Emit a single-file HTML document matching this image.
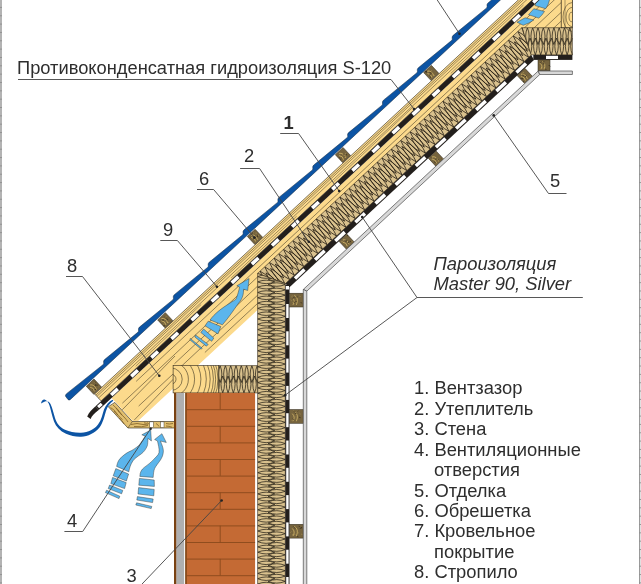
<!DOCTYPE html>
<html><head><meta charset="utf-8"><style>
html,body{margin:0;padding:0;background:#fff;}
body{width:641px;height:584px;overflow:hidden;position:relative;}
svg{position:absolute;left:0;top:0;}

</style></head><body>
<svg width="641" height="584" viewBox="0 0 641 584">
<defs><clipPath id="cr"><rect x="0" y="0" width="572.4" height="584"/></clipPath>
<clipPath id="crf"><polygon points="111.55,398.06 631.02,-85.05 654.81,-59.47 138.06,421.10 132.80,421.10 114.90,401.60"/></clipPath>
<clipPath id="ci1"><polygon points="257.60,273.43 521.83,27.70 531.29,54.90 285.30,283.67"/></clipPath>
<clipPath id="ci2"><polygon points="257.60,273.43 285.30,283.67 285.30,590.00 257.60,590.00"/></clipPath>
<clipPath id="ci3"><polygon points="521.83,27.70 572.40,27.70 572.40,54.90 531.29,54.90"/></clipPath>
<clipPath id="ctp"><rect x="173.1" y="365.6" width="45.7" height="27.3"/></clipPath>
<clipPath id="ci4"><polygon points="218.80,365.60 257.60,365.60 257.60,392.90 218.80,392.90"/></clipPath></defs>
<rect x="0" y="0" width="641" height="584" fill="#fff"/>
<g clip-path="url(#cr)"><polygon points="111.55,398.06 631.02,-85.05 654.81,-59.47 138.06,421.10 132.80,421.10 114.90,401.60" fill="#FCDA8C"/><g clip-path="url(#crf)"><line x1="136.17" y1="381.36" x2="663.40" y2="-108.97" stroke="#2a2418" stroke-width="0.5"/><line x1="122.35" y1="403.21" x2="666.90" y2="-105.21" stroke="#2a2418" stroke-width="0.5"/><line x1="174.44" y1="363.77" x2="671.38" y2="-100.39" stroke="#2a2418" stroke-width="0.5"/><line x1="138.65" y1="406.06" x2="676.37" y2="-95.02" stroke="#2a2418" stroke-width="0.5"/><line x1="204.88" y1="352.46" x2="680.86" y2="-90.20" stroke="#2a2418" stroke-width="0.5"/><line x1="134.40" y1="419.90" x2="173.30" y2="379.20" stroke="#2a2418" stroke-width="0.5"/><line x1="122.00" y1="410.00" x2="175.00" y2="356.00" stroke="#2a2418" stroke-width="0.5"/></g></g>
<path d="M249.1,278.5 L247.7,290.5 L243.6,289.2 C243.5,294 243,298 238.8,302.9 C236,306.5 230,316 222.4,324.8 L210.1,320 C214,314 222,308 229.2,303.6 C233,301 236,299.5 236.1,298.8 C238,294 239,290 239.5,287.1 L236.8,285.8 Z" fill="#5BB5EC" stroke="#2a2418" stroke-width="0.4"/>
<polygon points="208.20,321.20 220.80,326.50 218.00,333.90 205.00,325.80" fill="#5BB5EC" stroke="#2a2418" stroke-width="0.4"/>
<polygon points="203.60,329.00 213.80,338.10 211.70,341.30 200.80,332.50" fill="#5BB5EC" stroke="#2a2418" stroke-width="0.4"/>
<polygon points="195.50,334.90 208.20,344.40 206.40,346.20 194.80,337.00" fill="#5BB5EC" stroke="#2a2418" stroke-width="0.4"/>
<polygon points="190.30,338.40 202.20,348.30 201.20,349.30 189.90,339.80" fill="#5BB5EC" stroke="#2a2418" stroke-width="0.4"/>
<path d="M536.5,-1 L549.8,-1 Q548.5,5 545.7,8.7 L535.1,5.6 Z" fill="#5BB5EC" stroke="#2a2418" stroke-width="0.4"/>
<path d="M533.8,8.7 L544.5,11.5 Q542,15.5 538.8,18.1 L528.5,14.7 Z" fill="#5BB5EC" stroke="#2a2418" stroke-width="0.4"/>
<path d="M517,22.2 L525.1,17.8 L533.8,20 Q529,23.5 523.2,25.3 Z" fill="#5BB5EC" stroke="#2a2418" stroke-width="0.4"/>
<polygon points="257.60,273.43 521.83,27.70 531.29,54.90 285.30,283.67" fill="#D9C18D"/>
<g clip-path="url(#ci1)"><g transform="matrix(0.732271658149322,-0.6810126420788696,0.6810126420788696,0.732271658149322,250.28,280.24)"><path d="M-18.70,0.00 Q-22.60,10.54 -18.70,21.09 Q-14.80,10.54 -18.70,0.00 M-15.50,5.27 Q-19.40,15.82 -15.50,26.36 Q-11.60,15.82 -15.50,5.27 M-12.30,0.00 Q-16.20,10.54 -12.30,21.09 Q-8.40,10.54 -12.30,0.00 M-9.10,5.27 Q-13.00,15.82 -9.10,26.36 Q-5.20,15.82 -9.10,5.27 M-5.90,0.00 Q-9.80,10.54 -5.90,21.09 Q-2.00,10.54 -5.90,0.00 M-2.70,5.27 Q-6.60,15.82 -2.70,26.36 Q1.20,15.82 -2.70,5.27 M0.50,0.00 Q-3.40,10.54 0.50,21.09 Q4.40,10.54 0.50,0.00 M3.70,5.27 Q-0.20,15.82 3.70,26.36 Q7.60,15.82 3.70,5.27 M6.90,0.00 Q3.00,10.54 6.90,21.09 Q10.80,10.54 6.90,0.00 M10.10,5.27 Q6.20,15.82 10.10,26.36 Q14.00,15.82 10.10,5.27 M13.30,0.00 Q9.40,10.54 13.30,21.09 Q17.20,10.54 13.30,0.00 M16.50,5.27 Q12.60,15.82 16.50,26.36 Q20.40,15.82 16.50,5.27 M19.70,0.00 Q15.80,10.54 19.70,21.09 Q23.60,10.54 19.70,0.00 M22.90,5.27 Q19.00,15.82 22.90,26.36 Q26.80,15.82 22.90,5.27 M26.10,0.00 Q22.20,10.54 26.10,21.09 Q30.00,10.54 26.10,0.00 M29.30,5.27 Q25.40,15.82 29.30,26.36 Q33.20,15.82 29.30,5.27 M32.50,0.00 Q28.60,10.54 32.50,21.09 Q36.40,10.54 32.50,0.00 M35.70,5.27 Q31.80,15.82 35.70,26.36 Q39.60,15.82 35.70,5.27 M38.90,0.00 Q35.00,10.54 38.90,21.09 Q42.80,10.54 38.90,0.00 M42.10,5.27 Q38.20,15.82 42.10,26.36 Q46.00,15.82 42.10,5.27 M45.30,0.00 Q41.40,10.54 45.30,21.09 Q49.20,10.54 45.30,0.00 M48.50,5.27 Q44.60,15.82 48.50,26.36 Q52.40,15.82 48.50,5.27 M51.70,0.00 Q47.80,10.54 51.70,21.09 Q55.60,10.54 51.70,0.00 M54.90,5.27 Q51.00,15.82 54.90,26.36 Q58.80,15.82 54.90,5.27 M58.10,0.00 Q54.20,10.54 58.10,21.09 Q62.00,10.54 58.10,0.00 M61.30,5.27 Q57.40,15.82 61.30,26.36 Q65.20,15.82 61.30,5.27 M64.50,0.00 Q60.60,10.54 64.50,21.09 Q68.40,10.54 64.50,0.00 M67.70,5.27 Q63.80,15.82 67.70,26.36 Q71.60,15.82 67.70,5.27 M70.90,0.00 Q67.00,10.54 70.90,21.09 Q74.80,10.54 70.90,0.00 M74.10,5.27 Q70.20,15.82 74.10,26.36 Q78.00,15.82 74.10,5.27 M77.30,0.00 Q73.40,10.54 77.30,21.09 Q81.20,10.54 77.30,0.00 M80.50,5.27 Q76.60,15.82 80.50,26.36 Q84.40,15.82 80.50,5.27 M83.70,0.00 Q79.80,10.54 83.70,21.09 Q87.60,10.54 83.70,0.00 M86.90,5.27 Q83.00,15.82 86.90,26.36 Q90.80,15.82 86.90,5.27 M90.10,0.00 Q86.20,10.54 90.10,21.09 Q94.00,10.54 90.10,0.00 M93.30,5.27 Q89.40,15.82 93.30,26.36 Q97.20,15.82 93.30,5.27 M96.50,0.00 Q92.60,10.54 96.50,21.09 Q100.40,10.54 96.50,0.00 M99.70,5.27 Q95.80,15.82 99.70,26.36 Q103.60,15.82 99.70,5.27 M102.90,0.00 Q99.00,10.54 102.90,21.09 Q106.80,10.54 102.90,0.00 M106.10,5.27 Q102.20,15.82 106.10,26.36 Q110.00,15.82 106.10,5.27 M109.30,0.00 Q105.40,10.54 109.30,21.09 Q113.20,10.54 109.30,0.00 M112.50,5.27 Q108.60,15.82 112.50,26.36 Q116.40,15.82 112.50,5.27 M115.70,0.00 Q111.80,10.54 115.70,21.09 Q119.60,10.54 115.70,0.00 M118.90,5.27 Q115.00,15.82 118.90,26.36 Q122.80,15.82 118.90,5.27 M122.10,0.00 Q118.20,10.54 122.10,21.09 Q126.00,10.54 122.10,0.00 M125.30,5.27 Q121.40,15.82 125.30,26.36 Q129.20,15.82 125.30,5.27 M128.50,0.00 Q124.60,10.54 128.50,21.09 Q132.40,10.54 128.50,0.00 M131.70,5.27 Q127.80,15.82 131.70,26.36 Q135.60,15.82 131.70,5.27 M134.90,0.00 Q131.00,10.54 134.90,21.09 Q138.80,10.54 134.90,0.00 M138.10,5.27 Q134.20,15.82 138.10,26.36 Q142.00,15.82 138.10,5.27 M141.30,0.00 Q137.40,10.54 141.30,21.09 Q145.20,10.54 141.30,0.00 M144.50,5.27 Q140.60,15.82 144.50,26.36 Q148.40,15.82 144.50,5.27 M147.70,0.00 Q143.80,10.54 147.70,21.09 Q151.60,10.54 147.70,0.00 M150.90,5.27 Q147.00,15.82 150.90,26.36 Q154.80,15.82 150.90,5.27 M154.10,0.00 Q150.20,10.54 154.10,21.09 Q158.00,10.54 154.10,0.00 M157.30,5.27 Q153.40,15.82 157.30,26.36 Q161.20,15.82 157.30,5.27 M160.50,0.00 Q156.60,10.54 160.50,21.09 Q164.40,10.54 160.50,0.00 M163.70,5.27 Q159.80,15.82 163.70,26.36 Q167.60,15.82 163.70,5.27 M166.90,0.00 Q163.00,10.54 166.90,21.09 Q170.80,10.54 166.90,0.00 M170.10,5.27 Q166.20,15.82 170.10,26.36 Q174.00,15.82 170.10,5.27 M173.30,0.00 Q169.40,10.54 173.30,21.09 Q177.20,10.54 173.30,0.00 M176.50,5.27 Q172.60,15.82 176.50,26.36 Q180.40,15.82 176.50,5.27 M179.70,0.00 Q175.80,10.54 179.70,21.09 Q183.60,10.54 179.70,0.00 M182.90,5.27 Q179.00,15.82 182.90,26.36 Q186.80,15.82 182.90,5.27 M186.10,0.00 Q182.20,10.54 186.10,21.09 Q190.00,10.54 186.10,0.00 M189.30,5.27 Q185.40,15.82 189.30,26.36 Q193.20,15.82 189.30,5.27 M192.50,0.00 Q188.60,10.54 192.50,21.09 Q196.40,10.54 192.50,0.00 M195.70,5.27 Q191.80,15.82 195.70,26.36 Q199.60,15.82 195.70,5.27 M198.90,0.00 Q195.00,10.54 198.90,21.09 Q202.80,10.54 198.90,0.00 M202.10,5.27 Q198.20,15.82 202.10,26.36 Q206.00,15.82 202.10,5.27 M205.30,0.00 Q201.40,10.54 205.30,21.09 Q209.20,10.54 205.30,0.00 M208.50,5.27 Q204.60,15.82 208.50,26.36 Q212.40,15.82 208.50,5.27 M211.70,0.00 Q207.80,10.54 211.70,21.09 Q215.60,10.54 211.70,0.00 M214.90,5.27 Q211.00,15.82 214.90,26.36 Q218.80,15.82 214.90,5.27 M218.10,0.00 Q214.20,10.54 218.10,21.09 Q222.00,10.54 218.10,0.00 M221.30,5.27 Q217.40,15.82 221.30,26.36 Q225.20,15.82 221.30,5.27 M224.50,0.00 Q220.60,10.54 224.50,21.09 Q228.40,10.54 224.50,0.00 M227.70,5.27 Q223.80,15.82 227.70,26.36 Q231.60,15.82 227.70,5.27 M230.90,0.00 Q227.00,10.54 230.90,21.09 Q234.80,10.54 230.90,0.00 M234.10,5.27 Q230.20,15.82 234.10,26.36 Q238.00,15.82 234.10,5.27 M237.30,0.00 Q233.40,10.54 237.30,21.09 Q241.20,10.54 237.30,0.00 M240.50,5.27 Q236.60,15.82 240.50,26.36 Q244.40,15.82 240.50,5.27 M243.70,0.00 Q239.80,10.54 243.70,21.09 Q247.60,10.54 243.70,0.00 M246.90,5.27 Q243.00,15.82 246.90,26.36 Q250.80,15.82 246.90,5.27 M250.10,0.00 Q246.20,10.54 250.10,21.09 Q254.00,10.54 250.10,0.00 M253.30,5.27 Q249.40,15.82 253.30,26.36 Q257.20,15.82 253.30,5.27 M256.50,0.00 Q252.60,10.54 256.50,21.09 Q260.40,10.54 256.50,0.00 M259.70,5.27 Q255.80,15.82 259.70,26.36 Q263.60,15.82 259.70,5.27 M262.90,0.00 Q259.00,10.54 262.90,21.09 Q266.80,10.54 262.90,0.00 M266.10,5.27 Q262.20,15.82 266.10,26.36 Q270.00,15.82 266.10,5.27 M269.30,0.00 Q265.40,10.54 269.30,21.09 Q273.20,10.54 269.30,0.00 M272.50,5.27 Q268.60,15.82 272.50,26.36 Q276.40,15.82 272.50,5.27 M275.70,0.00 Q271.80,10.54 275.70,21.09 Q279.60,10.54 275.70,0.00 M278.90,5.27 Q275.00,15.82 278.90,26.36 Q282.80,15.82 278.90,5.27 M282.10,0.00 Q278.20,10.54 282.10,21.09 Q286.00,10.54 282.10,0.00 M285.30,5.27 Q281.40,15.82 285.30,26.36 Q289.20,15.82 285.30,5.27 M288.50,0.00 Q284.60,10.54 288.50,21.09 Q292.40,10.54 288.50,0.00 M291.70,5.27 Q287.80,15.82 291.70,26.36 Q295.60,15.82 291.70,5.27 M294.90,0.00 Q291.00,10.54 294.90,21.09 Q298.80,10.54 294.90,0.00 M298.10,5.27 Q294.20,15.82 298.10,26.36 Q302.00,15.82 298.10,5.27 M301.30,0.00 Q297.40,10.54 301.30,21.09 Q305.20,10.54 301.30,0.00 M304.50,5.27 Q300.60,15.82 304.50,26.36 Q308.40,15.82 304.50,5.27 M307.70,0.00 Q303.80,10.54 307.70,21.09 Q311.60,10.54 307.70,0.00 M310.90,5.27 Q307.00,15.82 310.90,26.36 Q314.80,15.82 310.90,5.27 M314.10,0.00 Q310.20,10.54 314.10,21.09 Q318.00,10.54 314.10,0.00 M317.30,5.27 Q313.40,15.82 317.30,26.36 Q321.20,15.82 317.30,5.27 M320.50,0.00 Q316.60,10.54 320.50,21.09 Q324.40,10.54 320.50,0.00 M323.70,5.27 Q319.80,15.82 323.70,26.36 Q327.60,15.82 323.70,5.27 M326.90,0.00 Q323.00,10.54 326.90,21.09 Q330.80,10.54 326.90,0.00 M330.10,5.27 Q326.20,15.82 330.10,26.36 Q334.00,15.82 330.10,5.27 M333.30,0.00 Q329.40,10.54 333.30,21.09 Q337.20,10.54 333.30,0.00 M336.50,5.27 Q332.60,15.82 336.50,26.36 Q340.40,15.82 336.50,5.27 M339.70,0.00 Q335.80,10.54 339.70,21.09 Q343.60,10.54 339.70,0.00 M342.90,5.27 Q339.00,15.82 342.90,26.36 Q346.80,15.82 342.90,5.27 M346.10,0.00 Q342.20,10.54 346.10,21.09 Q350.00,10.54 346.10,0.00 M349.30,5.27 Q345.40,15.82 349.30,26.36 Q353.20,15.82 349.30,5.27 M352.50,0.00 Q348.60,10.54 352.50,21.09 Q356.40,10.54 352.50,0.00 M355.70,5.27 Q351.80,15.82 355.70,26.36 Q359.60,15.82 355.70,5.27 M358.90,0.00 Q355.00,10.54 358.90,21.09 Q362.80,10.54 358.90,0.00 M362.10,5.27 Q358.20,15.82 362.10,26.36 Q366.00,15.82 362.10,5.27 M365.30,0.00 Q361.40,10.54 365.30,21.09 Q369.20,10.54 365.30,0.00 M368.50,5.27 Q364.60,15.82 368.50,26.36 Q372.40,15.82 368.50,5.27 M371.70,0.00 Q367.80,10.54 371.70,21.09 Q375.60,10.54 371.70,0.00 M374.90,5.27 Q371.00,15.82 374.90,26.36 Q378.80,15.82 374.90,5.27 M378.10,0.00 Q374.20,10.54 378.10,21.09 Q382.00,10.54 378.10,0.00 M381.30,5.27 Q377.40,15.82 381.30,26.36 Q385.20,15.82 381.30,5.27 M384.50,0.00 Q380.60,10.54 384.50,21.09 Q388.40,10.54 384.50,0.00 M387.70,5.27 Q383.80,15.82 387.70,26.36 Q391.60,15.82 387.70,5.27 M390.90,0.00 Q387.00,10.54 390.90,21.09 Q394.80,10.54 390.90,0.00 M394.10,5.27 Q390.20,15.82 394.10,26.36 Q398.00,15.82 394.10,5.27 M397.30,0.00 Q393.40,10.54 397.30,21.09 Q401.20,10.54 397.30,0.00 M400.50,5.27 Q396.60,15.82 400.50,26.36 Q404.40,15.82 400.50,5.27 M403.70,0.00 Q399.80,10.54 403.70,21.09 Q407.60,10.54 403.70,0.00 M406.90,5.27 Q403.00,15.82 406.90,26.36 Q410.80,15.82 406.90,5.27 M410.10,0.00 Q406.20,10.54 410.10,21.09 Q414.00,10.54 410.10,0.00 M413.30,5.27 Q409.40,15.82 413.30,26.36 Q417.20,15.82 413.30,5.27" fill="none" stroke="#241d13" stroke-width="0.75"/></g></g>
<polygon points="257.60,273.43 521.83,27.70 531.29,54.90 285.30,283.67" fill="none" stroke="#2f2719" stroke-width="0.6"/>
<polygon points="257.60,273.43 285.30,283.67 285.30,590.00 257.60,590.00" fill="#D9C18D"/>
<g clip-path="url(#ci2)"><g transform="matrix(0,1,1,0,257.6,0)"><path d="M-14.90,0.00 Q-18.40,8.59 -14.90,17.17 Q-11.40,8.59 -14.90,0.00 M-12.25,10.53 Q-15.75,19.11 -12.25,27.70 Q-8.75,19.11 -12.25,10.53 M-9.60,0.00 Q-13.10,8.59 -9.60,17.17 Q-6.10,8.59 -9.60,0.00 M-6.95,10.53 Q-10.45,19.11 -6.95,27.70 Q-3.45,19.11 -6.95,10.53 M-4.30,0.00 Q-7.80,8.59 -4.30,17.17 Q-0.80,8.59 -4.30,0.00 M-1.65,10.53 Q-5.15,19.11 -1.65,27.70 Q1.85,19.11 -1.65,10.53 M1.00,0.00 Q-2.50,8.59 1.00,17.17 Q4.50,8.59 1.00,0.00 M3.65,10.53 Q0.15,19.11 3.65,27.70 Q7.15,19.11 3.65,10.53 M6.30,0.00 Q2.80,8.59 6.30,17.17 Q9.80,8.59 6.30,0.00 M8.95,10.53 Q5.45,19.11 8.95,27.70 Q12.45,19.11 8.95,10.53 M11.60,0.00 Q8.10,8.59 11.60,17.17 Q15.10,8.59 11.60,0.00 M14.25,10.53 Q10.75,19.11 14.25,27.70 Q17.75,19.11 14.25,10.53 M16.90,0.00 Q13.40,8.59 16.90,17.17 Q20.40,8.59 16.90,0.00 M19.55,10.53 Q16.05,19.11 19.55,27.70 Q23.05,19.11 19.55,10.53 M22.20,0.00 Q18.70,8.59 22.20,17.17 Q25.70,8.59 22.20,0.00 M24.85,10.53 Q21.35,19.11 24.85,27.70 Q28.35,19.11 24.85,10.53 M27.50,0.00 Q24.00,8.59 27.50,17.17 Q31.00,8.59 27.50,0.00 M30.15,10.53 Q26.65,19.11 30.15,27.70 Q33.65,19.11 30.15,10.53 M32.80,0.00 Q29.30,8.59 32.80,17.17 Q36.30,8.59 32.80,0.00 M35.45,10.53 Q31.95,19.11 35.45,27.70 Q38.95,19.11 35.45,10.53 M38.10,0.00 Q34.60,8.59 38.10,17.17 Q41.60,8.59 38.10,0.00 M40.75,10.53 Q37.25,19.11 40.75,27.70 Q44.25,19.11 40.75,10.53 M43.40,0.00 Q39.90,8.59 43.40,17.17 Q46.90,8.59 43.40,0.00 M46.05,10.53 Q42.55,19.11 46.05,27.70 Q49.55,19.11 46.05,10.53 M48.70,0.00 Q45.20,8.59 48.70,17.17 Q52.20,8.59 48.70,0.00 M51.35,10.53 Q47.85,19.11 51.35,27.70 Q54.85,19.11 51.35,10.53 M54.00,0.00 Q50.50,8.59 54.00,17.17 Q57.50,8.59 54.00,0.00 M56.65,10.53 Q53.15,19.11 56.65,27.70 Q60.15,19.11 56.65,10.53 M59.30,0.00 Q55.80,8.59 59.30,17.17 Q62.80,8.59 59.30,0.00 M61.95,10.53 Q58.45,19.11 61.95,27.70 Q65.45,19.11 61.95,10.53 M64.60,0.00 Q61.10,8.59 64.60,17.17 Q68.10,8.59 64.60,0.00 M67.25,10.53 Q63.75,19.11 67.25,27.70 Q70.75,19.11 67.25,10.53 M69.90,0.00 Q66.40,8.59 69.90,17.17 Q73.40,8.59 69.90,0.00 M72.55,10.53 Q69.05,19.11 72.55,27.70 Q76.05,19.11 72.55,10.53 M75.20,0.00 Q71.70,8.59 75.20,17.17 Q78.70,8.59 75.20,0.00 M77.85,10.53 Q74.35,19.11 77.85,27.70 Q81.35,19.11 77.85,10.53 M80.50,0.00 Q77.00,8.59 80.50,17.17 Q84.00,8.59 80.50,0.00 M83.15,10.53 Q79.65,19.11 83.15,27.70 Q86.65,19.11 83.15,10.53 M85.80,0.00 Q82.30,8.59 85.80,17.17 Q89.30,8.59 85.80,0.00 M88.45,10.53 Q84.95,19.11 88.45,27.70 Q91.95,19.11 88.45,10.53 M91.10,0.00 Q87.60,8.59 91.10,17.17 Q94.60,8.59 91.10,0.00 M93.75,10.53 Q90.25,19.11 93.75,27.70 Q97.25,19.11 93.75,10.53 M96.40,0.00 Q92.90,8.59 96.40,17.17 Q99.90,8.59 96.40,0.00 M99.05,10.53 Q95.55,19.11 99.05,27.70 Q102.55,19.11 99.05,10.53 M101.70,0.00 Q98.20,8.59 101.70,17.17 Q105.20,8.59 101.70,0.00 M104.35,10.53 Q100.85,19.11 104.35,27.70 Q107.85,19.11 104.35,10.53 M107.00,0.00 Q103.50,8.59 107.00,17.17 Q110.50,8.59 107.00,0.00 M109.65,10.53 Q106.15,19.11 109.65,27.70 Q113.15,19.11 109.65,10.53 M112.30,0.00 Q108.80,8.59 112.30,17.17 Q115.80,8.59 112.30,0.00 M114.95,10.53 Q111.45,19.11 114.95,27.70 Q118.45,19.11 114.95,10.53 M117.60,0.00 Q114.10,8.59 117.60,17.17 Q121.10,8.59 117.60,0.00 M120.25,10.53 Q116.75,19.11 120.25,27.70 Q123.75,19.11 120.25,10.53 M122.90,0.00 Q119.40,8.59 122.90,17.17 Q126.40,8.59 122.90,0.00 M125.55,10.53 Q122.05,19.11 125.55,27.70 Q129.05,19.11 125.55,10.53 M128.20,0.00 Q124.70,8.59 128.20,17.17 Q131.70,8.59 128.20,0.00 M130.85,10.53 Q127.35,19.11 130.85,27.70 Q134.35,19.11 130.85,10.53 M133.50,0.00 Q130.00,8.59 133.50,17.17 Q137.00,8.59 133.50,0.00 M136.15,10.53 Q132.65,19.11 136.15,27.70 Q139.65,19.11 136.15,10.53 M138.80,0.00 Q135.30,8.59 138.80,17.17 Q142.30,8.59 138.80,0.00 M141.45,10.53 Q137.95,19.11 141.45,27.70 Q144.95,19.11 141.45,10.53 M144.10,0.00 Q140.60,8.59 144.10,17.17 Q147.60,8.59 144.10,0.00 M146.75,10.53 Q143.25,19.11 146.75,27.70 Q150.25,19.11 146.75,10.53 M149.40,0.00 Q145.90,8.59 149.40,17.17 Q152.90,8.59 149.40,0.00 M152.05,10.53 Q148.55,19.11 152.05,27.70 Q155.55,19.11 152.05,10.53 M154.70,0.00 Q151.20,8.59 154.70,17.17 Q158.20,8.59 154.70,0.00 M157.35,10.53 Q153.85,19.11 157.35,27.70 Q160.85,19.11 157.35,10.53 M160.00,0.00 Q156.50,8.59 160.00,17.17 Q163.50,8.59 160.00,0.00 M162.65,10.53 Q159.15,19.11 162.65,27.70 Q166.15,19.11 162.65,10.53 M165.30,0.00 Q161.80,8.59 165.30,17.17 Q168.80,8.59 165.30,0.00 M167.95,10.53 Q164.45,19.11 167.95,27.70 Q171.45,19.11 167.95,10.53 M170.60,0.00 Q167.10,8.59 170.60,17.17 Q174.10,8.59 170.60,0.00 M173.25,10.53 Q169.75,19.11 173.25,27.70 Q176.75,19.11 173.25,10.53 M175.90,0.00 Q172.40,8.59 175.90,17.17 Q179.40,8.59 175.90,0.00 M178.55,10.53 Q175.05,19.11 178.55,27.70 Q182.05,19.11 178.55,10.53 M181.20,0.00 Q177.70,8.59 181.20,17.17 Q184.70,8.59 181.20,0.00 M183.85,10.53 Q180.35,19.11 183.85,27.70 Q187.35,19.11 183.85,10.53 M186.50,0.00 Q183.00,8.59 186.50,17.17 Q190.00,8.59 186.50,0.00 M189.15,10.53 Q185.65,19.11 189.15,27.70 Q192.65,19.11 189.15,10.53 M191.80,0.00 Q188.30,8.59 191.80,17.17 Q195.30,8.59 191.80,0.00 M194.45,10.53 Q190.95,19.11 194.45,27.70 Q197.95,19.11 194.45,10.53 M197.10,0.00 Q193.60,8.59 197.10,17.17 Q200.60,8.59 197.10,0.00 M199.75,10.53 Q196.25,19.11 199.75,27.70 Q203.25,19.11 199.75,10.53 M202.40,0.00 Q198.90,8.59 202.40,17.17 Q205.90,8.59 202.40,0.00 M205.05,10.53 Q201.55,19.11 205.05,27.70 Q208.55,19.11 205.05,10.53 M207.70,0.00 Q204.20,8.59 207.70,17.17 Q211.20,8.59 207.70,0.00 M210.35,10.53 Q206.85,19.11 210.35,27.70 Q213.85,19.11 210.35,10.53 M213.00,0.00 Q209.50,8.59 213.00,17.17 Q216.50,8.59 213.00,0.00 M215.65,10.53 Q212.15,19.11 215.65,27.70 Q219.15,19.11 215.65,10.53 M218.30,0.00 Q214.80,8.59 218.30,17.17 Q221.80,8.59 218.30,0.00 M220.95,10.53 Q217.45,19.11 220.95,27.70 Q224.45,19.11 220.95,10.53 M223.60,0.00 Q220.10,8.59 223.60,17.17 Q227.10,8.59 223.60,0.00 M226.25,10.53 Q222.75,19.11 226.25,27.70 Q229.75,19.11 226.25,10.53 M228.90,0.00 Q225.40,8.59 228.90,17.17 Q232.40,8.59 228.90,0.00 M231.55,10.53 Q228.05,19.11 231.55,27.70 Q235.05,19.11 231.55,10.53 M234.20,0.00 Q230.70,8.59 234.20,17.17 Q237.70,8.59 234.20,0.00 M236.85,10.53 Q233.35,19.11 236.85,27.70 Q240.35,19.11 236.85,10.53 M239.50,0.00 Q236.00,8.59 239.50,17.17 Q243.00,8.59 239.50,0.00 M242.15,10.53 Q238.65,19.11 242.15,27.70 Q245.65,19.11 242.15,10.53 M244.80,0.00 Q241.30,8.59 244.80,17.17 Q248.30,8.59 244.80,0.00 M247.45,10.53 Q243.95,19.11 247.45,27.70 Q250.95,19.11 247.45,10.53 M250.10,0.00 Q246.60,8.59 250.10,17.17 Q253.60,8.59 250.10,0.00 M252.75,10.53 Q249.25,19.11 252.75,27.70 Q256.25,19.11 252.75,10.53 M255.40,0.00 Q251.90,8.59 255.40,17.17 Q258.90,8.59 255.40,0.00 M258.05,10.53 Q254.55,19.11 258.05,27.70 Q261.55,19.11 258.05,10.53 M260.70,0.00 Q257.20,8.59 260.70,17.17 Q264.20,8.59 260.70,0.00 M263.35,10.53 Q259.85,19.11 263.35,27.70 Q266.85,19.11 263.35,10.53 M266.00,0.00 Q262.50,8.59 266.00,17.17 Q269.50,8.59 266.00,0.00 M268.65,10.53 Q265.15,19.11 268.65,27.70 Q272.15,19.11 268.65,10.53 M271.30,0.00 Q267.80,8.59 271.30,17.17 Q274.80,8.59 271.30,0.00 M273.95,10.53 Q270.45,19.11 273.95,27.70 Q277.45,19.11 273.95,10.53 M276.60,0.00 Q273.10,8.59 276.60,17.17 Q280.10,8.59 276.60,0.00 M279.25,10.53 Q275.75,19.11 279.25,27.70 Q282.75,19.11 279.25,10.53 M281.90,0.00 Q278.40,8.59 281.90,17.17 Q285.40,8.59 281.90,0.00 M284.55,10.53 Q281.05,19.11 284.55,27.70 Q288.05,19.11 284.55,10.53 M287.20,0.00 Q283.70,8.59 287.20,17.17 Q290.70,8.59 287.20,0.00 M289.85,10.53 Q286.35,19.11 289.85,27.70 Q293.35,19.11 289.85,10.53 M292.50,0.00 Q289.00,8.59 292.50,17.17 Q296.00,8.59 292.50,0.00 M295.15,10.53 Q291.65,19.11 295.15,27.70 Q298.65,19.11 295.15,10.53 M297.80,0.00 Q294.30,8.59 297.80,17.17 Q301.30,8.59 297.80,0.00 M300.45,10.53 Q296.95,19.11 300.45,27.70 Q303.95,19.11 300.45,10.53 M303.10,0.00 Q299.60,8.59 303.10,17.17 Q306.60,8.59 303.10,0.00 M305.75,10.53 Q302.25,19.11 305.75,27.70 Q309.25,19.11 305.75,10.53 M308.40,0.00 Q304.90,8.59 308.40,17.17 Q311.90,8.59 308.40,0.00 M311.05,10.53 Q307.55,19.11 311.05,27.70 Q314.55,19.11 311.05,10.53 M313.70,0.00 Q310.20,8.59 313.70,17.17 Q317.20,8.59 313.70,0.00 M316.35,10.53 Q312.85,19.11 316.35,27.70 Q319.85,19.11 316.35,10.53 M319.00,0.00 Q315.50,8.59 319.00,17.17 Q322.50,8.59 319.00,0.00 M321.65,10.53 Q318.15,19.11 321.65,27.70 Q325.15,19.11 321.65,10.53 M324.30,0.00 Q320.80,8.59 324.30,17.17 Q327.80,8.59 324.30,0.00 M326.95,10.53 Q323.45,19.11 326.95,27.70 Q330.45,19.11 326.95,10.53 M329.60,0.00 Q326.10,8.59 329.60,17.17 Q333.10,8.59 329.60,0.00 M332.25,10.53 Q328.75,19.11 332.25,27.70 Q335.75,19.11 332.25,10.53 M334.90,0.00 Q331.40,8.59 334.90,17.17 Q338.40,8.59 334.90,0.00 M337.55,10.53 Q334.05,19.11 337.55,27.70 Q341.05,19.11 337.55,10.53 M340.20,0.00 Q336.70,8.59 340.20,17.17 Q343.70,8.59 340.20,0.00 M342.85,10.53 Q339.35,19.11 342.85,27.70 Q346.35,19.11 342.85,10.53 M345.50,0.00 Q342.00,8.59 345.50,17.17 Q349.00,8.59 345.50,0.00 M348.15,10.53 Q344.65,19.11 348.15,27.70 Q351.65,19.11 348.15,10.53 M350.80,0.00 Q347.30,8.59 350.80,17.17 Q354.30,8.59 350.80,0.00 M353.45,10.53 Q349.95,19.11 353.45,27.70 Q356.95,19.11 353.45,10.53 M356.10,0.00 Q352.60,8.59 356.10,17.17 Q359.60,8.59 356.10,0.00 M358.75,10.53 Q355.25,19.11 358.75,27.70 Q362.25,19.11 358.75,10.53 M361.40,0.00 Q357.90,8.59 361.40,17.17 Q364.90,8.59 361.40,0.00 M364.05,10.53 Q360.55,19.11 364.05,27.70 Q367.55,19.11 364.05,10.53 M366.70,0.00 Q363.20,8.59 366.70,17.17 Q370.20,8.59 366.70,0.00 M369.35,10.53 Q365.85,19.11 369.35,27.70 Q372.85,19.11 369.35,10.53 M372.00,0.00 Q368.50,8.59 372.00,17.17 Q375.50,8.59 372.00,0.00 M374.65,10.53 Q371.15,19.11 374.65,27.70 Q378.15,19.11 374.65,10.53 M377.30,0.00 Q373.80,8.59 377.30,17.17 Q380.80,8.59 377.30,0.00 M379.95,10.53 Q376.45,19.11 379.95,27.70 Q383.45,19.11 379.95,10.53 M382.60,0.00 Q379.10,8.59 382.60,17.17 Q386.10,8.59 382.60,0.00 M385.25,10.53 Q381.75,19.11 385.25,27.70 Q388.75,19.11 385.25,10.53 M387.90,0.00 Q384.40,8.59 387.90,17.17 Q391.40,8.59 387.90,0.00 M390.55,10.53 Q387.05,19.11 390.55,27.70 Q394.05,19.11 390.55,10.53 M393.20,0.00 Q389.70,8.59 393.20,17.17 Q396.70,8.59 393.20,0.00 M395.85,10.53 Q392.35,19.11 395.85,27.70 Q399.35,19.11 395.85,10.53 M398.50,0.00 Q395.00,8.59 398.50,17.17 Q402.00,8.59 398.50,0.00 M401.15,10.53 Q397.65,19.11 401.15,27.70 Q404.65,19.11 401.15,10.53 M403.80,0.00 Q400.30,8.59 403.80,17.17 Q407.30,8.59 403.80,0.00 M406.45,10.53 Q402.95,19.11 406.45,27.70 Q409.95,19.11 406.45,10.53 M409.10,0.00 Q405.60,8.59 409.10,17.17 Q412.60,8.59 409.10,0.00 M411.75,10.53 Q408.25,19.11 411.75,27.70 Q415.25,19.11 411.75,10.53 M414.40,0.00 Q410.90,8.59 414.40,17.17 Q417.90,8.59 414.40,0.00 M417.05,10.53 Q413.55,19.11 417.05,27.70 Q420.55,19.11 417.05,10.53 M419.70,0.00 Q416.20,8.59 419.70,17.17 Q423.20,8.59 419.70,0.00 M422.35,10.53 Q418.85,19.11 422.35,27.70 Q425.85,19.11 422.35,10.53 M425.00,0.00 Q421.50,8.59 425.00,17.17 Q428.50,8.59 425.00,0.00 M427.65,10.53 Q424.15,19.11 427.65,27.70 Q431.15,19.11 427.65,10.53 M430.30,0.00 Q426.80,8.59 430.30,17.17 Q433.80,8.59 430.30,0.00 M432.95,10.53 Q429.45,19.11 432.95,27.70 Q436.45,19.11 432.95,10.53 M435.60,0.00 Q432.10,8.59 435.60,17.17 Q439.10,8.59 435.60,0.00 M438.25,10.53 Q434.75,19.11 438.25,27.70 Q441.75,19.11 438.25,10.53 M440.90,0.00 Q437.40,8.59 440.90,17.17 Q444.40,8.59 440.90,0.00 M443.55,10.53 Q440.05,19.11 443.55,27.70 Q447.05,19.11 443.55,10.53 M446.20,0.00 Q442.70,8.59 446.20,17.17 Q449.70,8.59 446.20,0.00 M448.85,10.53 Q445.35,19.11 448.85,27.70 Q452.35,19.11 448.85,10.53 M451.50,0.00 Q448.00,8.59 451.50,17.17 Q455.00,8.59 451.50,0.00 M454.15,10.53 Q450.65,19.11 454.15,27.70 Q457.65,19.11 454.15,10.53 M456.80,0.00 Q453.30,8.59 456.80,17.17 Q460.30,8.59 456.80,0.00 M459.45,10.53 Q455.95,19.11 459.45,27.70 Q462.95,19.11 459.45,10.53 M462.10,0.00 Q458.60,8.59 462.10,17.17 Q465.60,8.59 462.10,0.00 M464.75,10.53 Q461.25,19.11 464.75,27.70 Q468.25,19.11 464.75,10.53 M467.40,0.00 Q463.90,8.59 467.40,17.17 Q470.90,8.59 467.40,0.00 M470.05,10.53 Q466.55,19.11 470.05,27.70 Q473.55,19.11 470.05,10.53 M472.70,0.00 Q469.20,8.59 472.70,17.17 Q476.20,8.59 472.70,0.00 M475.35,10.53 Q471.85,19.11 475.35,27.70 Q478.85,19.11 475.35,10.53 M478.00,0.00 Q474.50,8.59 478.00,17.17 Q481.50,8.59 478.00,0.00 M480.65,10.53 Q477.15,19.11 480.65,27.70 Q484.15,19.11 480.65,10.53 M483.30,0.00 Q479.80,8.59 483.30,17.17 Q486.80,8.59 483.30,0.00 M485.95,10.53 Q482.45,19.11 485.95,27.70 Q489.45,19.11 485.95,10.53 M488.60,0.00 Q485.10,8.59 488.60,17.17 Q492.10,8.59 488.60,0.00 M491.25,10.53 Q487.75,19.11 491.25,27.70 Q494.75,19.11 491.25,10.53 M493.90,0.00 Q490.40,8.59 493.90,17.17 Q497.40,8.59 493.90,0.00 M496.55,10.53 Q493.05,19.11 496.55,27.70 Q500.05,19.11 496.55,10.53 M499.20,0.00 Q495.70,8.59 499.20,17.17 Q502.70,8.59 499.20,0.00 M501.85,10.53 Q498.35,19.11 501.85,27.70 Q505.35,19.11 501.85,10.53 M504.50,0.00 Q501.00,8.59 504.50,17.17 Q508.00,8.59 504.50,0.00 M507.15,10.53 Q503.65,19.11 507.15,27.70 Q510.65,19.11 507.15,10.53 M509.80,0.00 Q506.30,8.59 509.80,17.17 Q513.30,8.59 509.80,0.00 M512.45,10.53 Q508.95,19.11 512.45,27.70 Q515.95,19.11 512.45,10.53 M515.10,0.00 Q511.60,8.59 515.10,17.17 Q518.60,8.59 515.10,0.00 M517.75,10.53 Q514.25,19.11 517.75,27.70 Q521.25,19.11 517.75,10.53 M520.40,0.00 Q516.90,8.59 520.40,17.17 Q523.90,8.59 520.40,0.00 M523.05,10.53 Q519.55,19.11 523.05,27.70 Q526.55,19.11 523.05,10.53 M525.70,0.00 Q522.20,8.59 525.70,17.17 Q529.20,8.59 525.70,0.00 M528.35,10.53 Q524.85,19.11 528.35,27.70 Q531.85,19.11 528.35,10.53 M531.00,0.00 Q527.50,8.59 531.00,17.17 Q534.50,8.59 531.00,0.00 M533.65,10.53 Q530.15,19.11 533.65,27.70 Q537.15,19.11 533.65,10.53 M536.30,0.00 Q532.80,8.59 536.30,17.17 Q539.80,8.59 536.30,0.00 M538.95,10.53 Q535.45,19.11 538.95,27.70 Q542.45,19.11 538.95,10.53 M541.60,0.00 Q538.10,8.59 541.60,17.17 Q545.10,8.59 541.60,0.00 M544.25,10.53 Q540.75,19.11 544.25,27.70 Q547.75,19.11 544.25,10.53 M546.90,0.00 Q543.40,8.59 546.90,17.17 Q550.40,8.59 546.90,0.00 M549.55,10.53 Q546.05,19.11 549.55,27.70 Q553.05,19.11 549.55,10.53 M552.20,0.00 Q548.70,8.59 552.20,17.17 Q555.70,8.59 552.20,0.00 M554.85,10.53 Q551.35,19.11 554.85,27.70 Q558.35,19.11 554.85,10.53 M557.50,0.00 Q554.00,8.59 557.50,17.17 Q561.00,8.59 557.50,0.00 M560.15,10.53 Q556.65,19.11 560.15,27.70 Q563.65,19.11 560.15,10.53 M562.80,0.00 Q559.30,8.59 562.80,17.17 Q566.30,8.59 562.80,0.00 M565.45,10.53 Q561.95,19.11 565.45,27.70 Q568.95,19.11 565.45,10.53 M568.10,0.00 Q564.60,8.59 568.10,17.17 Q571.60,8.59 568.10,0.00 M570.75,10.53 Q567.25,19.11 570.75,27.70 Q574.25,19.11 570.75,10.53 M573.40,0.00 Q569.90,8.59 573.40,17.17 Q576.90,8.59 573.40,0.00 M576.05,10.53 Q572.55,19.11 576.05,27.70 Q579.55,19.11 576.05,10.53 M578.70,0.00 Q575.20,8.59 578.70,17.17 Q582.20,8.59 578.70,0.00 M581.35,10.53 Q577.85,19.11 581.35,27.70 Q584.85,19.11 581.35,10.53 M584.00,0.00 Q580.50,8.59 584.00,17.17 Q587.50,8.59 584.00,0.00 M586.65,10.53 Q583.15,19.11 586.65,27.70 Q590.15,19.11 586.65,10.53 M589.30,0.00 Q585.80,8.59 589.30,17.17 Q592.80,8.59 589.30,0.00 M591.95,10.53 Q588.45,19.11 591.95,27.70 Q595.45,19.11 591.95,10.53 M594.60,0.00 Q591.10,8.59 594.60,17.17 Q598.10,8.59 594.60,0.00 M597.25,10.53 Q593.75,19.11 597.25,27.70 Q600.75,19.11 597.25,10.53 M599.90,0.00 Q596.40,8.59 599.90,17.17 Q603.40,8.59 599.90,0.00 M602.55,10.53 Q599.05,19.11 602.55,27.70 Q606.05,19.11 602.55,10.53 M605.20,0.00 Q601.70,8.59 605.20,17.17 Q608.70,8.59 605.20,0.00 M607.85,10.53 Q604.35,19.11 607.85,27.70 Q611.35,19.11 607.85,10.53 M610.50,0.00 Q607.00,8.59 610.50,17.17 Q614.00,8.59 610.50,0.00 M613.15,10.53 Q609.65,19.11 613.15,27.70 Q616.65,19.11 613.15,10.53" fill="none" stroke="#1f1a12" stroke-width="0.72"/></g></g>
<polygon points="257.60,273.43 285.30,283.67 285.30,590.00 257.60,590.00" fill="none" stroke="#2f2719" stroke-width="0.6"/>
<polygon points="521.83,27.70 572.40,27.70 572.40,54.90 531.29,54.90" fill="#D9C18D"/>
<g clip-path="url(#ci3)"><g transform="translate(510,27.7)"><path d="M-14.40,0.00 Q-17.90,8.43 -14.40,16.86 Q-10.90,8.43 -14.40,0.00 M-11.75,10.34 Q-15.25,18.77 -11.75,27.20 Q-8.25,18.77 -11.75,10.34 M-9.10,0.00 Q-12.60,8.43 -9.10,16.86 Q-5.60,8.43 -9.10,0.00 M-6.45,10.34 Q-9.95,18.77 -6.45,27.20 Q-2.95,18.77 -6.45,10.34 M-3.80,0.00 Q-7.30,8.43 -3.80,16.86 Q-0.30,8.43 -3.80,0.00 M-1.15,10.34 Q-4.65,18.77 -1.15,27.20 Q2.35,18.77 -1.15,10.34 M1.50,0.00 Q-2.00,8.43 1.50,16.86 Q5.00,8.43 1.50,0.00 M4.15,10.34 Q0.65,18.77 4.15,27.20 Q7.65,18.77 4.15,10.34 M6.80,0.00 Q3.30,8.43 6.80,16.86 Q10.30,8.43 6.80,0.00 M9.45,10.34 Q5.95,18.77 9.45,27.20 Q12.95,18.77 9.45,10.34 M12.10,0.00 Q8.60,8.43 12.10,16.86 Q15.60,8.43 12.10,0.00 M14.75,10.34 Q11.25,18.77 14.75,27.20 Q18.25,18.77 14.75,10.34 M17.40,0.00 Q13.90,8.43 17.40,16.86 Q20.90,8.43 17.40,0.00 M20.05,10.34 Q16.55,18.77 20.05,27.20 Q23.55,18.77 20.05,10.34 M22.70,0.00 Q19.20,8.43 22.70,16.86 Q26.20,8.43 22.70,0.00 M25.35,10.34 Q21.85,18.77 25.35,27.20 Q28.85,18.77 25.35,10.34 M28.00,0.00 Q24.50,8.43 28.00,16.86 Q31.50,8.43 28.00,0.00 M30.65,10.34 Q27.15,18.77 30.65,27.20 Q34.15,18.77 30.65,10.34 M33.30,0.00 Q29.80,8.43 33.30,16.86 Q36.80,8.43 33.30,0.00 M35.95,10.34 Q32.45,18.77 35.95,27.20 Q39.45,18.77 35.95,10.34 M38.60,0.00 Q35.10,8.43 38.60,16.86 Q42.10,8.43 38.60,0.00 M41.25,10.34 Q37.75,18.77 41.25,27.20 Q44.75,18.77 41.25,10.34 M43.90,0.00 Q40.40,8.43 43.90,16.86 Q47.40,8.43 43.90,0.00 M46.55,10.34 Q43.05,18.77 46.55,27.20 Q50.05,18.77 46.55,10.34 M49.20,0.00 Q45.70,8.43 49.20,16.86 Q52.70,8.43 49.20,0.00 M51.85,10.34 Q48.35,18.77 51.85,27.20 Q55.35,18.77 51.85,10.34 M54.50,0.00 Q51.00,8.43 54.50,16.86 Q58.00,8.43 54.50,0.00 M57.15,10.34 Q53.65,18.77 57.15,27.20 Q60.65,18.77 57.15,10.34 M59.80,0.00 Q56.30,8.43 59.80,16.86 Q63.30,8.43 59.80,0.00 M62.45,10.34 Q58.95,18.77 62.45,27.20 Q65.95,18.77 62.45,10.34 M65.10,0.00 Q61.60,8.43 65.10,16.86 Q68.60,8.43 65.10,0.00 M67.75,10.34 Q64.25,18.77 67.75,27.20 Q71.25,18.77 67.75,10.34 M70.40,0.00 Q66.90,8.43 70.40,16.86 Q73.90,8.43 70.40,0.00 M73.05,10.34 Q69.55,18.77 73.05,27.20 Q76.55,18.77 73.05,10.34 M75.70,0.00 Q72.20,8.43 75.70,16.86 Q79.20,8.43 75.70,0.00 M78.35,10.34 Q74.85,18.77 78.35,27.20 Q81.85,18.77 78.35,10.34 M81.00,0.00 Q77.50,8.43 81.00,16.86 Q84.50,8.43 81.00,0.00 M83.65,10.34 Q80.15,18.77 83.65,27.20 Q87.15,18.77 83.65,10.34" fill="none" stroke="#1f1a12" stroke-width="0.72"/></g></g>
<polygon points="521.83,27.70 572.40,27.70 572.40,54.90 531.29,54.90" fill="none" stroke="#2f2719" stroke-width="0.6"/>
<rect x="561.20" y="-1.00" width="11.20" height="28.70" fill="#FCDA8C" stroke="#2a2418" stroke-width="0.7"/>
<path d="M572,12.2 A3,4.800000000000001 0 0 0 572,21.8" fill="none" stroke="#2a2418" stroke-width="0.5"/>
<path d="M572,7.399999999999999 A6,9.600000000000001 0 0 0 572,26.6" fill="none" stroke="#2a2418" stroke-width="0.5"/>
<path d="M572,2.5999999999999996 A9,14.4 0 0 0 572,31.4" fill="none" stroke="#2a2418" stroke-width="0.5"/>
<line x1="565.00" y1="0.00" x2="565.00" y2="27.00" stroke="#2a2418" stroke-width="0.4"/>
<polygon points="285.30,283.67 531.29,54.90 533.98,59.90 289.50,287.26" fill="#231F1C"/>
<polygon points="293.79,277.14 303.31,268.29 305.69,270.84 296.17,279.70" fill="#fff"/>
<polygon points="313.93,258.41 323.45,249.56 325.83,252.12 316.31,260.97" fill="#fff"/>
<polygon points="334.07,239.68 343.59,230.83 345.96,233.39 336.44,242.24" fill="#fff"/>
<polygon points="354.20,220.96 363.72,212.10 366.10,214.66 356.58,223.51" fill="#fff"/>
<polygon points="374.34,202.23 383.86,193.37 386.24,195.93 376.72,204.79" fill="#fff"/>
<polygon points="394.48,183.50 404.00,174.65 406.38,177.20 396.86,186.06" fill="#fff"/>
<polygon points="414.62,164.77 424.14,155.92 426.51,158.48 416.99,167.33" fill="#fff"/>
<polygon points="434.75,146.04 444.27,137.19 446.65,139.75 437.13,148.60" fill="#fff"/>
<polygon points="454.89,127.32 464.41,118.46 466.79,121.02 457.27,129.87" fill="#fff"/>
<polygon points="475.03,108.59 484.55,99.74 486.93,102.29 477.41,111.15" fill="#fff"/>
<polygon points="495.17,89.86 504.69,81.01 507.06,83.56 497.54,92.42" fill="#fff"/>
<polygon points="515.30,71.13 524.82,62.28 527.20,64.84 517.68,73.69" fill="#fff"/>
<rect x="285.30" y="285.00" width="4.20" height="310.00" fill="#231F1C"/>
<rect x="285.80" y="286.00" width="3.20" height="3.50" fill="#fff"/>
<rect x="286.20" y="304.00" width="2.40" height="14.00" fill="#fff"/>
<rect x="286.20" y="331.30" width="2.40" height="14.00" fill="#fff"/>
<rect x="286.20" y="358.60" width="2.40" height="14.00" fill="#fff"/>
<rect x="286.20" y="385.90" width="2.40" height="14.00" fill="#fff"/>
<rect x="286.20" y="413.20" width="2.40" height="14.00" fill="#fff"/>
<rect x="286.20" y="440.50" width="2.40" height="14.00" fill="#fff"/>
<rect x="286.20" y="467.80" width="2.40" height="14.00" fill="#fff"/>
<rect x="286.20" y="495.10" width="2.40" height="14.00" fill="#fff"/>
<rect x="286.20" y="522.40" width="2.40" height="14.00" fill="#fff"/>
<rect x="286.20" y="549.70" width="2.40" height="14.00" fill="#fff"/>
<rect x="286.20" y="577.00" width="2.40" height="14.00" fill="#fff"/>
<rect x="533.30" y="54.90" width="39.10" height="5.00" fill="#231F1C"/>
<rect x="546.00" y="55.80" width="12.00" height="3.20" fill="#fff"/>
<g transform="matrix(0.73227,-0.68101,0.68101,0.73227,338.99,241.24)"><rect x="0" y="0" width="10.60" height="10.98" fill="#76643e" stroke="#2a2418" stroke-width="0.5"/><path d="M3.71,1.65 q3.71,2.20 1.59,7.69 M2.12,3.30 q2.65,2.75 0.53,6.04" fill="none" stroke="#d4b768" stroke-width="0.8"/><path d="M5.91,4.87l0.23,-0.88 M7.96,8.34l0.46,-1.02 M5.48,3.98l-0.75,1.36 M9.51,1.49l1.08,0.31 M4.30,3.59l0.52,-0.13 M6.88,6.91l-1.10,0.80" fill="none" stroke="#2b2316" stroke-width="0.7"/><path d="M9.39,9.62l0.27,-1.09 M1.09,2.28l1.06,-0.47 M4.16,8.99l-0.45,0.12 M4.76,1.67l0.20,0.83 M2.39,3.07l-0.21,-1.11" fill="none" stroke="#b39a5a" stroke-width="0.6"/></g>
<g transform="matrix(0.73227,-0.68101,0.68101,0.73227,428.32,158.17)"><rect x="0" y="0" width="10.60" height="10.98" fill="#76643e" stroke="#2a2418" stroke-width="0.5"/><path d="M3.71,1.65 q3.71,2.20 1.59,7.69 M2.12,3.30 q2.65,2.75 0.53,6.04" fill="none" stroke="#d4b768" stroke-width="0.8"/><path d="M4.90,6.02l1.27,-0.10 M5.37,6.26l-0.95,0.04 M6.40,8.07l-1.22,-0.59 M1.83,8.21l0.58,-1.37 M9.39,9.58l0.46,0.35 M2.40,1.23l0.09,-1.32" fill="none" stroke="#2b2316" stroke-width="0.7"/><path d="M2.67,3.22l-1.13,-0.09 M4.80,8.50l0.05,0.34 M5.30,6.92l-0.10,-0.53 M9.52,9.85l0.82,0.50 M3.73,3.12l-0.51,-1.03" fill="none" stroke="#b39a5a" stroke-width="0.6"/></g>
<g transform="matrix(0.73227,-0.68101,0.68101,0.73227,517.15,75.55)"><rect x="0" y="0" width="10.60" height="10.98" fill="#76643e" stroke="#2a2418" stroke-width="0.5"/><path d="M3.71,1.65 q3.71,2.20 1.59,7.69 M2.12,3.30 q2.65,2.75 0.53,6.04" fill="none" stroke="#d4b768" stroke-width="0.8"/><path d="M5.08,6.88l0.50,-1.07 M1.15,4.39l-0.68,0.93 M6.92,6.38l0.17,0.48 M2.29,4.97l-1.01,1.22 M1.56,8.29l-1.28,0.56 M3.92,4.65l1.03,-1.44" fill="none" stroke="#2b2316" stroke-width="0.7"/><path d="M1.58,9.14l0.02,-0.98 M9.43,9.42l-0.93,-0.18 M2.21,3.84l0.29,-0.81 M6.97,1.55l-0.79,0.76 M4.46,4.78l0.23,-0.06" fill="none" stroke="#b39a5a" stroke-width="0.6"/></g>
<g transform="translate(289.50,293.20)"><rect x="0" y="0" width="13.80" height="13.80" fill="#76643e" stroke="#2a2418" stroke-width="0.5"/><path d="M4.83,2.07 q4.83,2.76 2.07,9.66 M2.76,4.14 q3.45,3.45 0.69,7.59" fill="none" stroke="#d4b768" stroke-width="0.8"/><path d="M11.38,8.96l0.80,1.21 M4.25,8.40l1.21,1.12 M7.71,3.25l-0.27,1.48 M2.52,4.90l1.35,-0.15 M3.68,4.88l1.23,-0.49 M6.10,8.31l0.92,-0.02" fill="none" stroke="#2b2316" stroke-width="0.7"/><path d="M2.28,7.71l-1.12,-0.97 M3.48,9.04l-0.52,0.46 M3.18,2.68l-1.14,0.49 M10.86,3.81l-0.63,-1.17 M8.50,4.70l-0.87,0.35" fill="none" stroke="#b39a5a" stroke-width="0.6"/></g>
<g transform="translate(289.50,409.50)"><rect x="0" y="0" width="13.80" height="13.80" fill="#76643e" stroke="#2a2418" stroke-width="0.5"/><path d="M4.83,2.07 q4.83,2.76 2.07,9.66 M2.76,4.14 q3.45,3.45 0.69,7.59" fill="none" stroke="#d4b768" stroke-width="0.8"/><path d="M3.20,9.00l0.40,-0.06 M3.76,10.13l0.92,0.04 M6.96,3.99l-1.49,-0.39 M7.84,2.14l0.88,-0.80 M3.95,1.85l1.49,0.72 M11.04,8.18l-1.40,-0.51" fill="none" stroke="#2b2316" stroke-width="0.7"/><path d="M6.87,2.66l1.08,-0.32 M3.09,10.41l-0.90,1.03 M6.38,7.47l-0.38,-0.04 M3.44,1.79l0.88,-0.64 M9.99,3.68l1.13,0.95" fill="none" stroke="#b39a5a" stroke-width="0.6"/></g>
<g transform="translate(289.50,524.30)"><rect x="0" y="0" width="13.80" height="13.80" fill="#76643e" stroke="#2a2418" stroke-width="0.5"/><path d="M4.83,2.07 q4.83,2.76 2.07,9.66 M2.76,4.14 q3.45,3.45 0.69,7.59" fill="none" stroke="#d4b768" stroke-width="0.8"/><path d="M11.96,2.93l-1.43,1.50 M3.41,2.71l0.45,-0.46 M11.20,3.94l1.38,-0.54 M8.02,11.67l0.56,1.27 M9.20,1.91l1.14,0.27 M4.81,3.48l1.05,0.25" fill="none" stroke="#2b2316" stroke-width="0.7"/><path d="M11.74,9.92l1.11,0.16 M9.09,8.14l-0.58,1.10 M4.83,10.00l1.09,0.36 M2.95,10.49l0.40,-0.76 M1.92,7.25l-1.12,1.02" fill="none" stroke="#b39a5a" stroke-width="0.6"/></g>
<g transform="translate(538.00,59.90)"><rect x="0" y="0" width="12.00" height="10.90" fill="#76643e" stroke="#2a2418" stroke-width="0.5"/><path d="M4.20,1.64 q4.20,2.18 1.80,7.63 M2.40,3.27 q3.00,2.73 0.60,6.00" fill="none" stroke="#d4b768" stroke-width="0.8"/><path d="M6.38,3.61l-1.41,0.46 M3.22,3.33l-0.31,0.42 M10.69,5.11l1.48,1.48 M3.53,1.72l-1.02,1.03 M6.96,9.09l1.42,0.46 M6.34,1.68l-1.43,0.92" fill="none" stroke="#2b2316" stroke-width="0.7"/><path d="M7.65,7.74l0.16,0.42 M7.33,8.90l-0.93,-0.01 M4.17,8.32l0.90,-0.60 M1.97,3.21l-0.44,0.65 M5.13,7.63l-0.48,0.06" fill="none" stroke="#b39a5a" stroke-width="0.6"/></g>
<polygon points="303.30,289.43 538.17,71.00 539.78,74.50 306.80,291.18" fill="#D8D8D8" stroke="#4a4a4a" stroke-width="0.7"/>
<polygon points="303.30,289.43 306.80,291.18 306.80,590.00 303.30,590.00" fill="#D8D8D8" stroke="#4a4a4a" stroke-width="0.7"/>
<polygon points="538.17,71.00 572.40,71.00 572.40,74.50 539.78,74.50" fill="#D8D8D8" stroke="#4a4a4a" stroke-width="0.7"/>
<polygon points="94.64,393.98 621.15,-95.67 627.63,-88.70 101.13,400.95" fill="#FCDA8C" stroke="#2a2418" stroke-width="0.6"/><line x1="95.80" y1="395.23" x2="622.31" y2="-94.42" stroke="#2a2418" stroke-width="0.5"/><line x1="96.89" y1="396.40" x2="623.40" y2="-93.25" stroke="#2a2418" stroke-width="0.45"/><line x1="98.46" y1="398.08" x2="624.96" y2="-91.57" stroke="#2a2418" stroke-width="0.45"/><line x1="135.70" y1="366.18" x2="201.20" y2="304.45" stroke="#2a2418" stroke-width="0.4"/><line x1="231.17" y1="277.94" x2="296.67" y2="216.21" stroke="#2a2418" stroke-width="0.4"/><line x1="333.28" y1="182.16" x2="413.42" y2="106.81" stroke="#2a2418" stroke-width="0.4"/><line x1="450.71" y1="73.49" x2="523.53" y2="4.95" stroke="#2a2418" stroke-width="0.4"/>
<polygon points="95.27,406.40 627.63,-88.70 631.02,-85.05 98.66,410.05" fill="#231F1C"/>
<polygon points="109.95,393.70 116.54,387.57 118.98,390.19 112.39,396.32" fill="#fff"/>
<polygon points="130.05,375.01 136.64,368.88 139.08,371.50 132.49,377.63" fill="#fff"/>
<polygon points="150.15,356.31 156.74,350.18 159.18,352.80 152.59,358.93" fill="#fff"/>
<polygon points="170.25,337.62 176.85,331.49 179.28,334.11 172.69,340.24" fill="#fff"/>
<polygon points="190.36,318.93 196.95,312.80 199.38,315.42 192.79,321.55" fill="#fff"/>
<polygon points="210.46,300.23 217.05,294.10 219.48,296.72 212.89,302.85" fill="#fff"/>
<polygon points="230.56,281.54 237.15,275.41 239.59,278.03 233.00,284.16" fill="#fff"/>
<polygon points="250.66,262.84 257.25,256.71 259.69,259.34 253.10,265.46" fill="#fff"/>
<polygon points="270.76,244.15 277.35,238.02 279.79,240.64 273.20,246.77" fill="#fff"/>
<polygon points="290.86,225.46 297.45,219.33 299.89,221.95 293.30,228.08" fill="#fff"/>
<polygon points="310.96,206.76 317.55,200.63 319.99,203.25 313.40,209.38" fill="#fff"/>
<polygon points="331.06,188.07 337.65,181.94 340.09,184.56 333.50,190.69" fill="#fff"/>
<polygon points="351.16,169.37 357.75,163.25 360.19,165.87 353.60,172.00" fill="#fff"/>
<polygon points="371.26,150.68 377.85,144.55 380.29,147.17 373.70,153.30" fill="#fff"/>
<polygon points="391.36,131.99 397.95,125.86 400.39,128.48 393.80,134.61" fill="#fff"/>
<polygon points="411.47,113.29 418.06,107.16 420.49,109.79 413.90,115.91" fill="#fff"/>
<polygon points="431.57,94.60 438.16,88.47 440.59,91.09 434.00,97.22" fill="#fff"/>
<polygon points="451.67,75.91 458.26,69.78 460.69,72.40 454.10,78.53" fill="#fff"/>
<polygon points="471.77,57.21 478.36,51.08 480.80,53.70 474.21,59.83" fill="#fff"/>
<polygon points="491.87,38.52 498.46,32.39 500.90,35.01 494.31,41.14" fill="#fff"/>
<polygon points="511.97,19.82 518.56,13.70 521.00,16.32 514.41,22.45" fill="#fff"/>
<polygon points="532.07,1.13 538.66,-5.00 541.10,-2.38 534.51,3.75" fill="#fff"/>
<polygon points="552.17,-17.56 558.76,-23.69 561.20,-21.07 554.61,-14.94" fill="#fff"/>
<polygon points="572.27,-36.26 578.86,-42.39 581.30,-39.76 574.71,-33.64" fill="#fff"/>
<polygon points="592.37,-54.95 598.96,-61.08 601.40,-58.46 594.81,-52.33" fill="#fff"/>
<polygon points="612.47,-73.64 619.06,-79.77 621.50,-77.15 614.91,-71.02" fill="#fff"/>
<polygon points="97.05,406.11 100.71,402.71 102.74,404.89 99.08,408.29" fill="#fff"/>
<path d="M95.27,406.40 C92,409.5 89,412 87.2,416.4 L90.6,419 C91.8,416 94,413.5 98.66,410.05 Z" fill="#231F1C"/>
<g transform="matrix(0.73227,-0.68101,0.68101,0.73227,86.26,386.28)"><rect x="0" y="0" width="10.60" height="10.98" fill="#76643e" stroke="#2a2418" stroke-width="0.5"/><path d="M3.71,1.65 q3.71,2.20 1.59,7.69 M2.12,3.30 q2.65,2.75 0.53,6.04" fill="none" stroke="#d4b768" stroke-width="0.8"/><path d="M4.95,8.81l-1.40,-0.65 M9.22,6.94l-1.11,-0.45 M8.52,4.97l-1.41,1.19 M2.16,6.73l0.36,-0.12 M9.22,2.65l0.31,-1.16 M9.25,2.37l0.04,1.00" fill="none" stroke="#2b2316" stroke-width="0.7"/><path d="M8.55,1.96l0.91,0.82 M3.74,7.75l-0.66,-0.83 M2.44,3.81l0.78,-0.09 M9.45,8.95l-0.69,-0.16 M1.61,6.23l0.26,0.20" fill="none" stroke="#b39a5a" stroke-width="0.6"/></g>
<g transform="matrix(0.73227,-0.68101,0.68101,0.73227,157.65,319.88)"><rect x="0" y="0" width="10.60" height="10.98" fill="#76643e" stroke="#2a2418" stroke-width="0.5"/><path d="M3.71,1.65 q3.71,2.20 1.59,7.69 M2.12,3.30 q2.65,2.75 0.53,6.04" fill="none" stroke="#d4b768" stroke-width="0.8"/><path d="M4.29,3.13l-1.00,1.24 M5.96,7.16l0.16,-0.35 M7.26,6.16l0.84,0.48 M8.18,4.96l-1.03,-1.05 M7.19,2.57l0.46,0.36 M1.56,7.99l-1.40,1.10" fill="none" stroke="#2b2316" stroke-width="0.7"/><path d="M8.19,3.00l0.54,0.56 M2.12,6.99l-0.90,0.99 M6.90,9.71l-1.07,-0.44 M6.32,6.44l-0.76,0.93 M8.24,3.75l-0.85,0.40" fill="none" stroke="#b39a5a" stroke-width="0.6"/></g>
<g transform="matrix(0.73227,-0.68101,0.68101,0.73227,247.36,236.46)"><rect x="0" y="0" width="10.60" height="10.98" fill="#76643e" stroke="#2a2418" stroke-width="0.5"/><path d="M3.71,1.65 q3.71,2.20 1.59,7.69 M2.12,3.30 q2.65,2.75 0.53,6.04" fill="none" stroke="#d4b768" stroke-width="0.8"/><path d="M6.48,1.32l-0.67,-0.83 M7.31,7.04l1.18,-1.24 M4.64,1.36l-0.84,0.02 M1.29,2.85l0.45,0.13 M2.93,6.28l0.93,-1.48 M7.89,7.23l-0.48,-1.03" fill="none" stroke="#2b2316" stroke-width="0.7"/><path d="M9.18,4.06l-0.98,-0.97 M8.25,6.40l0.74,0.55 M5.61,9.65l-0.29,0.12 M8.09,6.53l0.87,0.19 M7.03,1.50l-0.65,-0.51" fill="none" stroke="#b39a5a" stroke-width="0.6"/></g>
<g transform="matrix(0.73227,-0.68101,0.68101,0.73227,335.30,154.67)"><rect x="0" y="0" width="10.60" height="10.98" fill="#76643e" stroke="#2a2418" stroke-width="0.5"/><path d="M3.71,1.65 q3.71,2.20 1.59,7.69 M2.12,3.30 q2.65,2.75 0.53,6.04" fill="none" stroke="#d4b768" stroke-width="0.8"/><path d="M1.39,7.22l-1.07,-0.11 M6.76,8.07l-0.14,-0.01 M1.22,4.90l-0.38,1.06 M5.70,7.74l-0.20,-0.97 M8.28,8.31l-0.37,-1.21 M5.41,5.46l0.82,0.29" fill="none" stroke="#2b2316" stroke-width="0.7"/><path d="M5.36,6.15l-0.30,-1.08 M1.58,9.38l0.81,-0.49 M8.60,5.69l-0.95,0.85 M6.02,9.30l0.43,-0.97 M6.34,8.01l0.96,-0.40" fill="none" stroke="#b39a5a" stroke-width="0.6"/></g>
<g transform="matrix(0.73227,-0.68101,0.68101,0.73227,423.61,72.54)"><rect x="0" y="0" width="10.60" height="10.98" fill="#76643e" stroke="#2a2418" stroke-width="0.5"/><path d="M3.71,1.65 q3.71,2.20 1.59,7.69 M2.12,3.30 q2.65,2.75 0.53,6.04" fill="none" stroke="#d4b768" stroke-width="0.8"/><path d="M4.52,5.86l1.09,-0.97 M2.97,1.35l-1.15,-1.47 M2.39,5.61l1.47,0.58 M4.27,4.66l0.57,-0.52 M1.68,8.49l0.35,-1.16 M1.65,1.93l1.38,-1.18" fill="none" stroke="#2b2316" stroke-width="0.7"/><path d="M6.36,9.62l-1.12,-0.27 M5.11,9.16l-0.75,-0.58 M3.16,1.53l0.42,0.76 M4.76,1.43l0.51,0.57 M6.60,3.99l0.79,0.31" fill="none" stroke="#b39a5a" stroke-width="0.6"/></g>
<path d="M70.40,399.48 Q69.01,400.63 67.99,399.54 L65.72,396.50 Q64.84,395.27 66.60,393.63 L103.25,364.47 C104.57,363.25 102.43,361.54 104.63,359.49 L138.11,332.06 C139.43,330.83 137.29,329.12 139.49,327.08 L172.97,299.64 C174.29,298.41 172.15,296.70 174.34,294.66 L207.82,267.22 C209.14,266.00 207.00,264.29 209.20,262.24 L242.68,234.81 C244.00,233.58 241.86,231.87 244.06,229.83 L277.54,202.39 C278.85,201.17 276.72,199.45 278.91,197.41 L312.39,169.98 C313.71,168.75 311.57,167.04 313.77,165.00 L347.25,137.56 C348.57,136.33 346.43,134.62 348.62,132.58 L382.10,105.14 C383.42,103.92 381.28,102.21 383.48,100.16 L416.96,72.73 C418.28,71.50 416.14,69.79 418.34,67.75 L451.82,40.31 C453.13,39.09 451.00,37.37 453.19,35.33 L486.67,7.89 C487.99,6.67 485.85,4.96 488.05,2.91 L521.53,-24.52 C522.85,-25.75 520.71,-27.46 522.91,-29.50 L557.85,-58.30 L560.34,-55.62 Z" fill="#0C54A4" stroke="#13263a" stroke-width="0.5"/>
<polygon points="108.30,406.70 114.80,402.40 132.30,421.50 174.60,421.50 174.60,428.00 127.90,428.00" fill="#E2C070" stroke="#2a2418" stroke-width="0.6"/>
<path d="M110.5,407.5 q4,2 7,7 q2,3 5,5 M113,405 q5,4 9,10 M116,408 q3,5 8,9 q2,2 4,5 M119,418 q3,2 5,6 M114,411 q2,3 4,4" fill="none" stroke="#7a5a22" stroke-width="0.75"/>
<path d="M131,424.5 q6,-2 12,0 q4,1 6,-1 M134,426.5 q8,1 14,-1 M156,423.5 q2,1 3,3 M166,423.5 q3,1 7,0 M166,426 q3,0 6,1.2 M144,422.8 q3,1 4,0" fill="none" stroke="#7a5a22" stroke-width="0.75"/>
<line x1="132.30" y1="421.50" x2="127.90" y2="428.00" stroke="#2a2418" stroke-width="0.5"/>
<rect x="149.80" y="421.90" width="3.60" height="5.60" fill="#fff" stroke="#2a2418" stroke-width="0.4"/>
<rect x="160.60" y="421.90" width="3.40" height="5.60" fill="#fff" stroke="#2a2418" stroke-width="0.4"/>
<rect x="173.10" y="365.60" width="45.70" height="27.30" fill="#FCDA8C" stroke="#2a2418" stroke-width="0.6"/>
<g clip-path="url(#ctp)"><path d="M171.00,374.20 A5,5 0 0 1 171.00,384.20 M171.00,368.00 A11.2,11.2 0 0 1 171.00,390.40 M171.00,361.80 A17.4,17.4 0 0 1 171.00,396.60 M171.00,355.60 A23.6,23.6 0 0 1 171.00,402.80 M171.00,349.30 A29.9,29.9 0 0 1 171.00,409.10 M171.00,343.90 A35.3,35.3 0 0 1 171.00,414.50 M171.00,340.00 A39.2,39.2 0 0 1 171.00,418.40 M171.00,336.80 A42.4,42.4 0 0 1 171.00,421.60 M171.00,334.50 A44.7,44.7 0 0 1 171.00,423.90 M171.00,332.20 A47,47 0 0 1 171.00,426.20" fill="none" stroke="#2a2418" stroke-width="0.55"/></g>
<polygon points="218.80,365.60 257.60,365.60 257.60,392.90 218.80,392.90" fill="#D9C18D"/>
<g clip-path="url(#ci4)"><g transform="translate(214,365.6)"><path d="M-15.10,0.00 Q-18.60,8.46 -15.10,16.93 Q-11.60,8.46 -15.10,0.00 M-12.45,10.37 Q-15.95,18.84 -12.45,27.30 Q-8.95,18.84 -12.45,10.37 M-9.80,0.00 Q-13.30,8.46 -9.80,16.93 Q-6.30,8.46 -9.80,0.00 M-7.15,10.37 Q-10.65,18.84 -7.15,27.30 Q-3.65,18.84 -7.15,10.37 M-4.50,0.00 Q-8.00,8.46 -4.50,16.93 Q-1.00,8.46 -4.50,0.00 M-1.85,10.37 Q-5.35,18.84 -1.85,27.30 Q1.65,18.84 -1.85,10.37 M0.80,0.00 Q-2.70,8.46 0.80,16.93 Q4.30,8.46 0.80,0.00 M3.45,10.37 Q-0.05,18.84 3.45,27.30 Q6.95,18.84 3.45,10.37 M6.10,0.00 Q2.60,8.46 6.10,16.93 Q9.60,8.46 6.10,0.00 M8.75,10.37 Q5.25,18.84 8.75,27.30 Q12.25,18.84 8.75,10.37 M11.40,0.00 Q7.90,8.46 11.40,16.93 Q14.90,8.46 11.40,0.00 M14.05,10.37 Q10.55,18.84 14.05,27.30 Q17.55,18.84 14.05,10.37 M16.70,0.00 Q13.20,8.46 16.70,16.93 Q20.20,8.46 16.70,0.00 M19.35,10.37 Q15.85,18.84 19.35,27.30 Q22.85,18.84 19.35,10.37 M22.00,0.00 Q18.50,8.46 22.00,16.93 Q25.50,8.46 22.00,0.00 M24.65,10.37 Q21.15,18.84 24.65,27.30 Q28.15,18.84 24.65,10.37 M27.30,0.00 Q23.80,8.46 27.30,16.93 Q30.80,8.46 27.30,0.00 M29.95,10.37 Q26.45,18.84 29.95,27.30 Q33.45,18.84 29.95,10.37 M32.60,0.00 Q29.10,8.46 32.60,16.93 Q36.10,8.46 32.60,0.00 M35.25,10.37 Q31.75,18.84 35.25,27.30 Q38.75,18.84 35.25,10.37 M37.90,0.00 Q34.40,8.46 37.90,16.93 Q41.40,8.46 37.90,0.00 M40.55,10.37 Q37.05,18.84 40.55,27.30 Q44.05,18.84 40.55,10.37 M43.20,0.00 Q39.70,8.46 43.20,16.93 Q46.70,8.46 43.20,0.00 M45.85,10.37 Q42.35,18.84 45.85,27.30 Q49.35,18.84 45.85,10.37 M48.50,0.00 Q45.00,8.46 48.50,16.93 Q52.00,8.46 48.50,0.00 M51.15,10.37 Q47.65,18.84 51.15,27.30 Q54.65,18.84 51.15,10.37 M53.80,0.00 Q50.30,8.46 53.80,16.93 Q57.30,8.46 53.80,0.00 M56.45,10.37 Q52.95,18.84 56.45,27.30 Q59.95,18.84 56.45,10.37 M59.10,0.00 Q55.60,8.46 59.10,16.93 Q62.60,8.46 59.10,0.00 M61.75,10.37 Q58.25,18.84 61.75,27.30 Q65.25,18.84 61.75,10.37" fill="none" stroke="#1f1a12" stroke-width="0.72"/></g></g>
<polygon points="218.80,365.60 257.60,365.60 257.60,392.90 218.80,392.90" fill="none" stroke="#2f2719" stroke-width="0.6"/>
<rect x="174.00" y="392.90" width="81.10" height="200.00" fill="#C46A34"/>
<rect x="174.00" y="392.90" width="2.20" height="200.00" fill="#7a4212"/>
<rect x="176.20" y="392.90" width="9.10" height="200.00" fill="#AFAFAF"/>
<rect x="184.00" y="392.90" width="1.30" height="200.00" fill="#f2f2f2"/>
<rect x="185.30" y="392.90" width="1.40" height="200.00" fill="#7a4212"/>
<line x1="186.70" y1="409.70" x2="255.10" y2="409.70" stroke="#8a4a1c" stroke-width="0.9"/>
<line x1="186.70" y1="426.30" x2="255.10" y2="426.30" stroke="#8a4a1c" stroke-width="0.9"/>
<line x1="186.70" y1="442.90" x2="255.10" y2="442.90" stroke="#8a4a1c" stroke-width="0.9"/>
<line x1="186.70" y1="459.50" x2="255.10" y2="459.50" stroke="#8a4a1c" stroke-width="0.9"/>
<line x1="186.70" y1="476.10" x2="255.10" y2="476.10" stroke="#8a4a1c" stroke-width="0.9"/>
<line x1="186.70" y1="492.70" x2="255.10" y2="492.70" stroke="#8a4a1c" stroke-width="0.9"/>
<line x1="186.70" y1="509.30" x2="255.10" y2="509.30" stroke="#8a4a1c" stroke-width="0.9"/>
<line x1="186.70" y1="525.90" x2="255.10" y2="525.90" stroke="#8a4a1c" stroke-width="0.9"/>
<line x1="186.70" y1="542.50" x2="255.10" y2="542.50" stroke="#8a4a1c" stroke-width="0.9"/>
<line x1="186.70" y1="559.10" x2="255.10" y2="559.10" stroke="#8a4a1c" stroke-width="0.9"/>
<line x1="186.70" y1="575.70" x2="255.10" y2="575.70" stroke="#8a4a1c" stroke-width="0.9"/>
<line x1="220.20" y1="392.90" x2="220.20" y2="409.50" stroke="#8a4a1c" stroke-width="0.9"/>
<line x1="220.20" y1="426.10" x2="220.20" y2="442.70" stroke="#8a4a1c" stroke-width="0.9"/>
<line x1="220.20" y1="459.30" x2="220.20" y2="475.90" stroke="#8a4a1c" stroke-width="0.9"/>
<line x1="220.20" y1="492.50" x2="220.20" y2="509.10" stroke="#8a4a1c" stroke-width="0.9"/>
<line x1="220.20" y1="525.70" x2="220.20" y2="542.30" stroke="#8a4a1c" stroke-width="0.9"/>
<line x1="220.20" y1="558.90" x2="220.20" y2="575.50" stroke="#8a4a1c" stroke-width="0.9"/>
<path d="M41,403.6 C41.5,400.5 43,399.4 44.5,399.6 C46.5,400 48.5,402.5 49.5,405.5 C51,410 52,416 54,421.5 C56,426.5 60,431 66,433.8 C71,436 76,437 81,436.8 C88,436.5 95,433 99.5,427.5 C103,423 104.5,416 106,411 C107.5,406.5 110,403 113.3,400.8 L112.6,399.8 C109,401.5 106,405 104,409.5 C102.5,414 101.5,420 98,424.5 C94.5,429 88.5,432.5 81,432.8 C75,433 70,432 65,429.8 C59.5,427 56.5,423 55,418 C53.5,413 52.5,408 50.5,404 C49,401 46.5,401 45,401.6 C43.5,402 42.3,403 41,403.6 Z" fill="#0C54A4"/>
<path d="M150.7,430.1 L151.4,441 L148,438.3 C147.8,442 147.8,444 147.3,445.8 C146,449 144,452 141.1,454 C137,457 134.5,458.5 132.9,460.9 C130.5,464.5 129.5,468 128.8,471.8 L116.6,466.4 C117.5,462 119,459 121.9,456.8 C125,454 128,452 131.5,450.6 C135,448.5 138,446.5 139.7,444.4 C141.5,442 143.5,439 145.2,436.2 L141.8,434.8 Z" fill="#5BB5EC" stroke="#2a2418" stroke-width="0.4"/>
<polygon points="115.80,468.60 128.60,474.00 126.40,481.00 113.20,475.80" fill="#5BB5EC" stroke="#2a2418" stroke-width="0.4"/>
<polygon points="112.60,477.40 126.20,482.60 124.60,488.60 110.80,483.60" fill="#5BB5EC" stroke="#2a2418" stroke-width="0.4"/>
<polygon points="109.60,485.00 122.80,490.40 121.60,493.80 108.20,488.60" fill="#5BB5EC" stroke="#2a2418" stroke-width="0.4"/>
<polygon points="106.60,490.20 119.80,496.20 119.00,498.60 105.40,492.60" fill="#5BB5EC" stroke="#2a2418" stroke-width="0.4"/>
<path d="M161.9,433.7 L166.3,442.5 L160.5,441 C161.5,444 163.5,448 163.4,451.2 C163.2,455 162,457.5 160.5,459.9 C158,463.5 155.8,466 154.6,468.6 C153.6,471.5 153.4,474 153.2,477.4 L139.8,476.4 C140,472 141.5,469.5 144.5,467.2 C148,464.5 151,462.5 153.2,459.9 C156,457 158.5,455 159,452.6 C159.5,448 158,444.5 157.5,441 L154.6,439.5 Z" fill="#5BB5EC" stroke="#2a2418" stroke-width="0.4"/>
<polygon points="139.40,478.40 154.20,480.00 154.40,486.40 138.80,485.20" fill="#5BB5EC" stroke="#2a2418" stroke-width="0.4"/>
<polygon points="138.60,487.60 154.20,489.40 153.80,495.80 138.00,494.00" fill="#5BB5EC" stroke="#2a2418" stroke-width="0.4"/>
<polygon points="137.40,496.60 153.20,499.00 152.60,502.60 136.80,500.00" fill="#5BB5EC" stroke="#2a2418" stroke-width="0.4"/>
<polygon points="136.60,502.80 151.80,506.40 151.20,508.60 135.80,505.00" fill="#5BB5EC" stroke="#2a2418" stroke-width="0.4"/>
<g style="will-change:transform"><text x="17.0" y="73.5" font-family="&quot;Liberation Sans&quot;, sans-serif" font-size="18.3" font-style="normal" font-weight="normal" fill="#2e2e2e">Противоконденсатная гидроизоляция S-120</text></g>
<polyline points="18.00,79.50 391.00,79.50 414.00,109.00" fill="none" stroke="#444444" stroke-width="0.9"/>
<g style="will-change:transform"><text x="283.5" y="128.7" font-family="&quot;Liberation Sans&quot;, sans-serif" font-size="18.35" font-style="normal" font-weight="bold" fill="#2e2e2e">1</text></g>
<polyline points="280.20,133.50 298.60,133.50 339.20,191.00" fill="none" stroke="#444444" stroke-width="0.9"/>
<g style="will-change:transform"><text x="244" y="162.3" font-family="&quot;Liberation Sans&quot;, sans-serif" font-size="18.35" font-style="normal" font-weight="normal" fill="#2e2e2e">2</text></g>
<polyline points="240.10,168.50 259.60,168.50 308.70,241.80" fill="none" stroke="#444444" stroke-width="0.9"/>
<g style="will-change:transform"><text x="199" y="185" font-family="&quot;Liberation Sans&quot;, sans-serif" font-size="18.35" font-style="normal" font-weight="normal" fill="#2e2e2e">6</text></g>
<polyline points="197.00,189.50 213.60,189.50 254.50,237.60" fill="none" stroke="#444444" stroke-width="0.9"/>
<g style="will-change:transform"><text x="163" y="235.7" font-family="&quot;Liberation Sans&quot;, sans-serif" font-size="18.35" font-style="normal" font-weight="normal" fill="#2e2e2e">9</text></g>
<polyline points="160.30,240.50 177.40,240.50 216.90,286.70" fill="none" stroke="#444444" stroke-width="0.9"/>
<g style="will-change:transform"><text x="67" y="271.8" font-family="&quot;Liberation Sans&quot;, sans-serif" font-size="18.35" font-style="normal" font-weight="normal" fill="#2e2e2e">8</text></g>
<polyline points="66.00,276.50 82.50,276.50 159.30,375.80" fill="none" stroke="#444444" stroke-width="0.9"/>
<g style="will-change:transform"><text x="550" y="187.3" font-family="&quot;Liberation Sans&quot;, sans-serif" font-size="18.35" font-style="normal" font-weight="normal" fill="#2e2e2e">5</text></g>
<polyline points="566.50,193.50 548.50,193.50 493.70,115.40" fill="none" stroke="#444444" stroke-width="0.9"/>
<g style="will-change:transform"><text x="67" y="526.8" font-family="&quot;Liberation Sans&quot;, sans-serif" font-size="18.35" font-style="normal" font-weight="normal" fill="#2e2e2e">4</text></g>
<polyline points="64.40,531.50 82.70,531.50 150.60,428.70" fill="none" stroke="#444444" stroke-width="0.9"/>
<g style="will-change:transform"><text x="126.5" y="582" font-family="&quot;Liberation Sans&quot;, sans-serif" font-size="18.35" font-style="normal" font-weight="normal" fill="#2e2e2e">3</text></g>
<polyline points="141.10,585.00 221.60,500.50" fill="none" stroke="#444444" stroke-width="0.9"/>
<polyline points="436.60,-1.00 459.50,33.80" fill="none" stroke="#444444" stroke-width="0.9"/>
<g style="will-change:transform"><text x="433.5" y="269.7" font-family="&quot;Liberation Sans&quot;, sans-serif" font-size="18.35" font-style="italic" font-weight="normal" fill="#2e2e2e">Пароизоляция</text></g>
<g style="will-change:transform"><text x="433.5" y="289.7" font-family="&quot;Liberation Sans&quot;, sans-serif" font-size="18.35" font-style="italic" font-weight="normal" fill="#2e2e2e">Master 90, Silver</text></g>
<polyline points="582.80,297.50 417.00,297.50 362.20,217.10" fill="none" stroke="#444444" stroke-width="0.9"/>
<polyline points="417.00,297.50 285.10,395.20" fill="none" stroke="#444444" stroke-width="0.9"/>
<circle cx="414" cy="109" r="1.3" fill="#222"/>
<circle cx="339.2" cy="191" r="1.3" fill="#222"/>
<circle cx="308.7" cy="241.8" r="1.3" fill="#222"/>
<circle cx="254.5" cy="237.6" r="1.3" fill="#222"/>
<circle cx="216.9" cy="286.7" r="1.3" fill="#222"/>
<circle cx="159.3" cy="375.8" r="1.3" fill="#222"/>
<circle cx="493.7" cy="115.4" r="1.3" fill="#222"/>
<circle cx="150.6" cy="428.7" r="1.3" fill="#222"/>
<circle cx="221.6" cy="500.5" r="1.3" fill="#222"/>
<circle cx="459.5" cy="33.8" r="1.3" fill="#222"/>
<circle cx="362.2" cy="217.1" r="1.3" fill="#222"/>
<circle cx="285.1" cy="395.2" r="1.3" fill="#222"/>
<g style="will-change:transform"><text x="414.0" y="394.4" font-family="&quot;Liberation Sans&quot;, sans-serif" font-size="18.35" font-style="normal" font-weight="normal" fill="#2e2e2e">1. Вентзазор</text></g>
<g style="will-change:transform"><text x="414.0" y="414.84" font-family="&quot;Liberation Sans&quot;, sans-serif" font-size="18.35" font-style="normal" font-weight="normal" fill="#2e2e2e">2. Утеплитель</text></g>
<g style="will-change:transform"><text x="414.0" y="435.28" font-family="&quot;Liberation Sans&quot;, sans-serif" font-size="18.35" font-style="normal" font-weight="normal" fill="#2e2e2e">3. Стена</text></g>
<g style="will-change:transform"><text x="414.0" y="455.71999999999997" font-family="&quot;Liberation Sans&quot;, sans-serif" font-size="18.35" font-style="normal" font-weight="normal" fill="#2e2e2e">4. Вентиляционные</text></g>
<g style="will-change:transform"><text x="434.0" y="476.15999999999997" font-family="&quot;Liberation Sans&quot;, sans-serif" font-size="18.35" font-style="normal" font-weight="normal" fill="#2e2e2e">отверстия</text></g>
<g style="will-change:transform"><text x="414.0" y="496.59999999999997" font-family="&quot;Liberation Sans&quot;, sans-serif" font-size="18.35" font-style="normal" font-weight="normal" fill="#2e2e2e">5. Отделка</text></g>
<g style="will-change:transform"><text x="414.0" y="517.04" font-family="&quot;Liberation Sans&quot;, sans-serif" font-size="18.35" font-style="normal" font-weight="normal" fill="#2e2e2e">6. Обрешетка</text></g>
<g style="will-change:transform"><text x="414.0" y="537.48" font-family="&quot;Liberation Sans&quot;, sans-serif" font-size="18.35" font-style="normal" font-weight="normal" fill="#2e2e2e">7. Кровельное</text></g>
<g style="will-change:transform"><text x="434.0" y="557.92" font-family="&quot;Liberation Sans&quot;, sans-serif" font-size="18.35" font-style="normal" font-weight="normal" fill="#2e2e2e">покрытие</text></g>
<g style="will-change:transform"><text x="414.0" y="578.36" font-family="&quot;Liberation Sans&quot;, sans-serif" font-size="18.35" font-style="normal" font-weight="normal" fill="#2e2e2e">8. Стропило</text></g>
<rect x="0.00" y="0.00" width="2.00" height="584.00" fill="#B3B3B3"/>
<rect x="639.00" y="0.00" width="1.00" height="584.00" fill="#9A9A9A"/>
<rect x="640.00" y="0.00" width="1.00" height="584.00" fill="#E0E0E0"/>
<path d="M0,7.42h2 M639,7.42h2 M0,15.76h2 M639,15.76h2 M0,24.10h2 M639,24.10h2 M0,32.44h2 M639,32.44h2 M0,40.78h2 M639,40.78h2 M0,49.12h2 M639,49.12h2 M0,57.46h2 M639,57.46h2 M0,65.80h2 M639,65.80h2 M0,74.14h2 M639,74.14h2 M0,82.48h2 M639,82.48h2 M0,90.82h2 M639,90.82h2 M0,99.16h2 M639,99.16h2 M0,107.50h2 M639,107.50h2 M0,115.84h2 M639,115.84h2 M0,124.18h2 M639,124.18h2 M0,132.52h2 M639,132.52h2 M0,140.86h2 M639,140.86h2 M0,149.20h2 M639,149.20h2 M0,157.54h2 M639,157.54h2 M0,165.88h2 M639,165.88h2 M0,174.22h2 M639,174.22h2 M0,182.56h2 M639,182.56h2 M0,190.90h2 M639,190.90h2 M0,199.24h2 M639,199.24h2 M0,207.58h2 M639,207.58h2 M0,215.92h2 M639,215.92h2 M0,224.26h2 M639,224.26h2 M0,232.60h2 M639,232.60h2 M0,240.94h2 M639,240.94h2 M0,249.28h2 M639,249.28h2 M0,257.62h2 M639,257.62h2 M0,265.96h2 M639,265.96h2 M0,274.30h2 M639,274.30h2 M0,282.64h2 M639,282.64h2 M0,290.98h2 M639,290.98h2 M0,299.32h2 M639,299.32h2 M0,307.66h2 M639,307.66h2 M0,316.00h2 M639,316.00h2 M0,324.34h2 M639,324.34h2 M0,332.68h2 M639,332.68h2 M0,341.02h2 M639,341.02h2 M0,349.36h2 M639,349.36h2 M0,357.70h2 M639,357.70h2 M0,366.04h2 M639,366.04h2 M0,374.38h2 M639,374.38h2 M0,382.72h2 M639,382.72h2 M0,391.06h2 M639,391.06h2 M0,399.40h2 M639,399.40h2 M0,407.74h2 M639,407.74h2 M0,416.08h2 M639,416.08h2 M0,424.42h2 M639,424.42h2 M0,432.76h2 M639,432.76h2 M0,441.10h2 M639,441.10h2 M0,449.44h2 M639,449.44h2 M0,457.78h2 M639,457.78h2 M0,466.12h2 M639,466.12h2 M0,474.46h2 M639,474.46h2 M0,482.80h2 M639,482.80h2 M0,491.14h2 M639,491.14h2 M0,499.48h2 M639,499.48h2 M0,507.82h2 M639,507.82h2 M0,516.16h2 M639,516.16h2 M0,524.50h2 M639,524.50h2 M0,532.84h2 M639,532.84h2 M0,541.18h2 M639,541.18h2 M0,549.52h2 M639,549.52h2 M0,557.86h2 M639,557.86h2 M0,566.20h2 M639,566.20h2 M0,574.54h2 M639,574.54h2 M0,582.88h2 M639,582.88h2" stroke="#8f8f8f" stroke-width="0.9" fill="none"/>
</svg>
</body></html>
